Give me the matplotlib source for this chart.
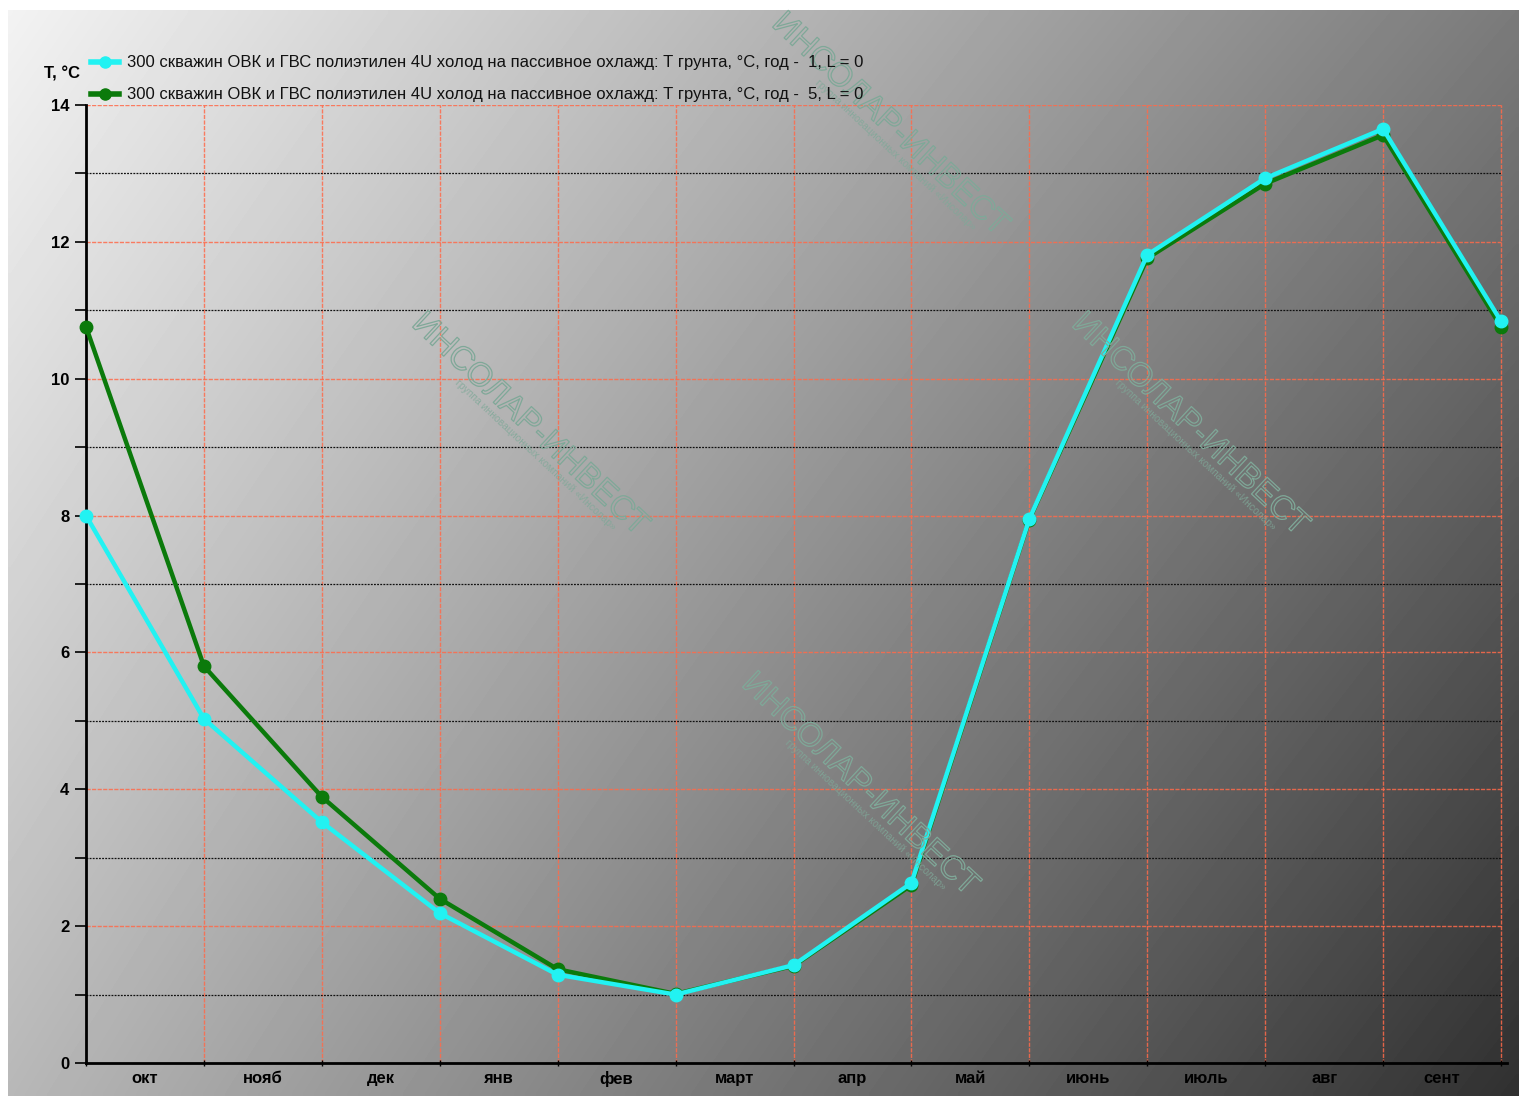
import numpy as np
import matplotlib.pyplot as plt
import matplotlib.patheffects as pe
from matplotlib.ticker import MultipleLocator

plt.rcParams["font.family"] = ["Liberation Sans", "DejaVu Sans"]

months = ["окт", "нояб", "дек", "янв", "фев", "март", "апр",
          "май", "июнь", "июль", "авг", "сент"]

# ground temperature at month boundaries, 13 points
t_year1 = [8.0, 5.03, 3.52, 2.19, 1.29, 1.0, 1.43, 2.63, 7.95, 11.81, 12.93, 13.65, 10.84]
t_year5 = [10.76, 5.80, 3.89, 2.40, 1.37, 1.01, 1.42, 2.60, 7.94, 11.76, 12.85, 13.56, 10.76]

label1 = "300 скважин ОВК и ГВС полиэтилен 4U холод на пассивное охлажд: Т грунта, °С, год -  1, L = 0"
label5 = "300 скважин ОВК и ГВС полиэтилен 4U холод на пассивное охлажд: Т грунта, °С, год -  5, L = 0"

fig = plt.figure(figsize=(15.19, 10.96), dpi=100)

# gradient background (bilinear between corner greys)
bg = fig.add_axes([8 / 1519, 0, 1 - 8 / 1519, 1 - 10 / 1096])
bg.set_axis_off()
xx, yy = np.meshgrid(np.linspace(0, 1, 300), np.linspace(0, 1, 220))
tl, tr, bl, br = 0.95, 0.48, 0.72, 0.19
shade = (tl * (1 - xx) * (1 - yy) + tr * xx * (1 - yy)
         + bl * (1 - xx) * yy + br * xx * yy)
bg.imshow(shade, cmap="gray", vmin=0, vmax=1, aspect="auto",
          extent=[0, 1, 1, 0], interpolation="bilinear")
bg.set_xlim(0, 1)
bg.set_ylim(1, 0)

# watermarks
for wx, wy in [(530, 425), (860, 785), (1190, 425), (890, 125)]:
    fig.text(wx / 1519, 1 - wy / 1096, "ИНСОЛАР-ИНВЕСТ", fontsize=24, rotation=-43,
             color="none", ha="center", va="center", rotation_mode="anchor",
             path_effects=[pe.Stroke(linewidth=0.9, foreground="#7fa898")])
    fig.text((wx + 5) / 1519, 1 - (wy + 30) / 1096,
             "группа инновационных компаний «Инсолар»", fontsize=7.5, rotation=-43,
             color="#7fa898", alpha=0.8, ha="center", va="center", rotation_mode="anchor")

xmax = 12.05
right_px = 86 + (1501 - 86) * xmax / 12
ax = fig.add_axes([86 / 1519, 1 - 1063 / 1096, (right_px - 86) / 1519, (1063 - 105) / 1096])
ax.patch.set_alpha(0)

x = np.arange(len(t_year1))

# grid
for v in range(1, 13):
    ax.axvline(v, color="#ff6a4a", lw=1.0, ls=(0, (3, 1)), alpha=0.85, zorder=1)
for v in range(2, 15, 2):
    ax.axhline(v, xmax=12 / xmax, color="#ff6a4a", lw=1.0, ls=(0, (3, 1)), alpha=0.85, zorder=1)
for v in range(1, 14, 2):
    ax.axhline(v, xmax=12 / xmax, color="#111111", lw=0.9, ls=(0, (1.5, 1)), zorder=1)

ax.plot(x, t_year5, color="#0b7a0b", lw=3.2, marker="o", ms=9, zorder=3, clip_on=False)
ax.plot(x, t_year1, color="#22f2f2", lw=3.2, marker="o", ms=9, zorder=4, clip_on=False)

ax.set_xlim(0, xmax)
ax.set_ylim(0, 14)
ax.yaxis.set_major_locator(MultipleLocator(2))
ax.yaxis.set_minor_locator(MultipleLocator(1))
ax.set_xticks(range(13))
ax.set_xticklabels([])
ax.set_xticks(np.arange(12) + 0.5, minor=True)
ax.set_xticklabels(months, minor=True)
ax.tick_params(axis="x", which="minor", length=0, pad=6)
ax.tick_params(axis="x", which="major", length=5, direction="inout", width=1)
ax.tick_params(axis="y", which="major", length=8, width=1.2, pad=4)
ax.tick_params(axis="y", which="minor", length=8, width=1.2)
for lab in ax.get_xticklabels(minor=True) + ax.get_yticklabels():
    lab.set_fontweight("bold")
    lab.set_fontsize(12)
for s in ["top", "right"]:
    ax.spines[s].set_visible(False)
ax.spines["left"].set_linewidth(2)
ax.spines["bottom"].set_linewidth(2)

fig.text(44 / 1519, 1 - 74 / 1096, "T, °C", fontsize=12, fontweight="bold", va="center")

# legend
for ly, col, lab in [(62, "#22f2f2", label1), (94, "#0b7a0b", label5)]:
    yf = 1 - ly / 1096
    fig.add_artist(plt.Line2D([91 / 1519, 119 / 1519], [yf, yf], color=col, lw=4,
                              transform=fig.transFigure))
    fig.add_artist(plt.Line2D([105 / 1519], [yf], color=col, marker="o", ms=8,
                              transform=fig.transFigure))
    fig.text(127 / 1519, yf, lab, fontsize=12, va="center", color="#111111")

fig.savefig("out.png", dpi=100)
